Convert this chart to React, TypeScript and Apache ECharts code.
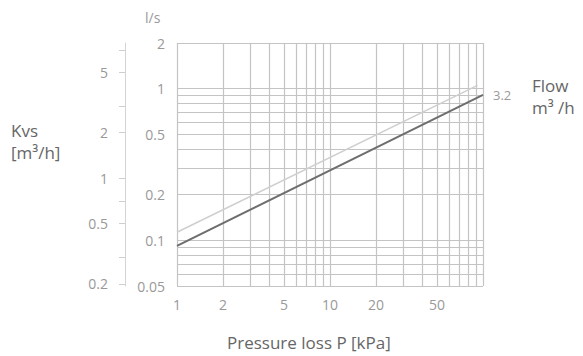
import React, { useEffect, useRef } from "react";
import * as echarts from "echarts";

// Pressure loss [kPa] grid lines and labels
const pressureGrid = [1, 2, 3, 4, 5, 6, 7, 8, 9, 10, 20, 30, 40, 50, 60, 70, 80, 90, 100];
const pressureLabels = [1, 2, 5, 10, 20, 50];
// Flow [l/s] grid lines and labels
const flowGrid = [0.05, 0.06, 0.07, 0.08, 0.09, 0.1, 0.2, 0.3, 0.4, 0.5, 0.6, 0.7, 0.8, 0.9, 1, 2];
const flowLabels = [0.05, 0.1, 0.2, 0.5, 1, 2];
// Kvs [m3/h] axis ticks and labels
const kvsTicks = [0.2, 0.3, 0.5, 0.7, 1, 2, 3, 5, 7];
const kvsLabels = [0.2, 0.5, 1, 2, 5];
const kvsRange = [0.194, 7.8];

// Curves: pressure [kPa] vs flow [l/s]
const darkPressure = [1, 100];
const darkFlow = [0.092, 0.91];
const lightPressure = [1, 92];
const lightFlow = [0.113, 1.05];
const darkLabel = "3.2";

const L = (v: number) => Math.log10(v);
const fmt = (v: number) => {
  const r = Math.pow(10, v);
  return String(parseFloat(r.toPrecision(3)));
};

export default function App() {
  const ref = useRef<HTMLDivElement>(null);
  useEffect(() => {
    const chart = echarts.init(ref.current!, null, { renderer: "svg" });
    const font = "'Open Sans', sans-serif";
    const gridLine = { show: true, lineStyle: { color: "#c4c4c4", width: 1.2 } };
    const tickLabel = { color: "#999999", fontSize: 14, fontFamily: font };
    chart.setOption({
      animation: false,
      backgroundColor: "#ffffff",
      grid: { left: 177, top: 43, right: 100, bottom: 70 },
      xAxis: {
        type: "value",
        min: L(1),
        max: L(100),
        axisLine: { show: false },
        axisTick: { show: false, customValues: pressureGrid.map(L) },
        splitLine: gridLine,
        axisLabel: {
          customValues: pressureLabels.map(L),
          formatter: fmt,
          ...tickLabel,
          margin: 11,
        },
      },
      yAxis: [
        {
          type: "value",
          min: L(0.05),
          max: L(2),
          axisLine: { show: false },
          axisTick: { show: false, customValues: flowGrid.map(L) },
          splitLine: gridLine,
          axisLabel: {
            customValues: flowLabels.map(L),
            formatter: fmt,
            ...tickLabel,
            margin: 12,
          },
        },
        {
          type: "value",
          position: "left",
          offset: 52,
          min: L(kvsRange[0]),
          max: L(kvsRange[1]),
          axisLine: { show: true, lineStyle: { color: "#d4d4d4", width: 1 } },
          axisTick: {
            show: true,
            length: 6,
            customValues: kvsTicks.map(L),
            lineStyle: { color: "#cfcfcf" },
          },
          splitLine: { show: false },
          axisLabel: {
            customValues: kvsLabels.map(L),
            formatter: fmt,
            ...tickLabel,
            margin: 17,
          },
        },
      ],
      series: [
        {
          type: "line",
          symbol: "none",
          silent: true,
          lineStyle: { color: "#cfcfcf", width: 1.5 },
          data: lightPressure.map((p, i) => [L(p), L(lightFlow[i])]),
        },
        {
          type: "line",
          symbol: "none",
          silent: true,
          lineStyle: { color: "#6e6e6e", width: 2 },
          data: darkPressure.map((p, i) => [L(p), L(darkFlow[i])]),
          endLabel: {
            show: true,
            formatter: darkLabel,
            color: "#9a9a9a",
            fontSize: 13,
            fontFamily: font,
            distance: 10,
          },
        },
      ],
      graphic: [
        { type: "text", left: 145, top: 10, style: { text: "l/s", fill: "#9a9a9a", fontSize: 14, fontFamily: font } },
        { type: "text", left: 11, top: 119, style: { text: "Kvs\n[m³/h]", fill: "#666", fontSize: 17, lineHeight: 22, fontFamily: font } },
        { type: "text", left: 532, top: 74, style: { text: "Flow\nm³ /h", fill: "#666", fontSize: 17, lineHeight: 22, fontFamily: font } },
        { type: "text", left: 227, top: 334, style: { text: "Pressure loss P [kPa]", fill: "#666", fontSize: 17, fontFamily: font } },
      ],
    });
    return () => chart.dispose();
  }, []);
  return <div ref={ref} style={{ position: "fixed", left: 0, top: 0, width: 583, height: 356 }} />;
}
